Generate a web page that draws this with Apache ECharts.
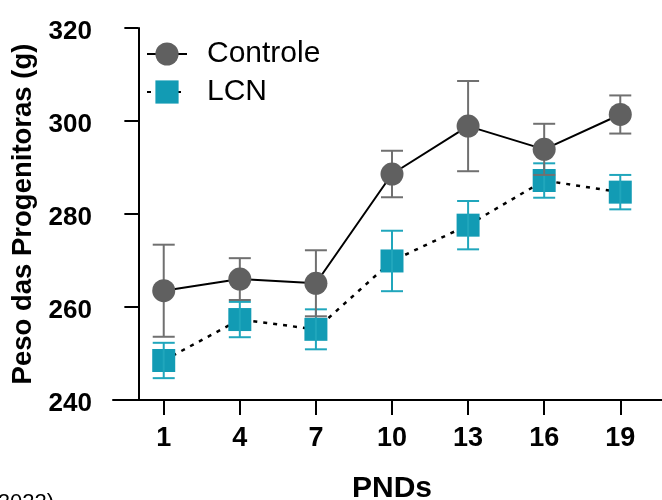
<!DOCTYPE html>
<html>
<head>
<meta charset="utf-8">
<script src="https://cdn.jsdelivr.net/npm/echarts@6/dist/echarts.min.js"></script>
<style>
  html, body { margin: 0; padding: 0; background: #fff; }
  #chart { width: 662px; height: 500px; }
</style>
</head>
<body>
<div id="chart"></div>
<script>
// dias pós-natais
var pnds = [1, 4, 7, 10, 13, 16, 19];
// Controle: média e erro
var controleMedia = [263.5, 266.0, 265.1, 288.6, 298.9, 293.9, 301.4];
var controleErro = [9.9, 4.5, 7.1, 5.0, 9.7, 5.5, 4.1];
// LCN: média e erro
var lcnMedia = [248.5, 257.3, 255.2, 269.9, 277.6, 287.2, 284.7];
var lcnErro = [3.8, 3.8, 4.3, 6.5, 5.2, 3.7, 3.7];
var yTicks = [240, 260, 280, 300, 320];

var fonte = 'Liberation Sans';
var cinza = '#606060';
var cinzaErro = '#707070';
var azul = '#129bb4';
var azulErro = '#20a6bc';

function pares(media) {
  return pnds.map(function (x, i) { return [x, media[i]]; });
}
function barras(media, erro) {
  return pnds.map(function (x, i) { return [x, media[i] - erro[i], media[i] + erro[i]]; });
}

// barras de erro com tampas
function errorRender(cor) {
  return function (params, api) {
    var x = api.value(0);
    var lo = api.coord([x, api.value(1)]);
    var hi = api.coord([x, api.value(2)]);
    var w = 11;
    var st = { stroke: cor, lineWidth: 2 };
    return {
      type: 'group',
      children: [
        { type: 'line', shape: { x1: lo[0], y1: lo[1], x2: hi[0], y2: hi[1] }, style: st },
        { type: 'line', shape: { x1: hi[0] - w, y1: hi[1], x2: hi[0] + w, y2: hi[1] }, style: st },
        { type: 'line', shape: { x1: lo[0] - w, y1: lo[1], x2: lo[0] + w, y2: lo[1] }, style: st }
      ]
    };
  };
}

var chart = echarts.init(document.getElementById('chart'));

var option = {
  animation: false,
  backgroundColor: '#fff',
  grid: { left: 113, right: -9, top: 28, bottom: 100, outerBoundsMode: 'none', containLabel: false },
  legend: {
    left: 141,
    top: 34,
    orient: 'vertical',
    itemWidth: 40,
    itemHeight: 29,
    itemGap: 8,
    textStyle: { fontFamily: fonte, fontSize: 30, color: '#000', padding: [0, 0, 0, 15] },
    data: ['Controle', 'LCN']
  },
  xAxis: {
    type: 'value',
    min: -1,
    max: 21,
    name: 'PNDs',
    nameLocation: 'middle',
    nameGap: 74,
    nameTextStyle: { fontFamily: fonte, fontSize: 30, fontWeight: 'bold', color: '#000' },
    axisLine: { lineStyle: { color: '#000', width: 2 } },
    axisTick: { show: true, length: 15, lineStyle: { color: '#000', width: 2 }, customValues: pnds },
    axisLabel: { customValues: pnds, margin: 25, fontFamily: fonte, fontSize: 27, fontWeight: 'bold', color: '#000' },
    splitLine: { show: false }
  },
  yAxis: {
    type: 'value',
    min: 240,
    max: 320,
    interval: 20,
    name: 'Peso das Progenitoras (g)',
    nameLocation: 'middle',
    nameGap: 74,
    nameTextStyle: { fontFamily: fonte, fontSize: 27.5, fontWeight: 'bold', color: '#000' },
    axisLine: { show: true, lineStyle: { color: '#000', width: 2 } },
    axisTick: { show: true, length: 14, lineStyle: { color: '#000', width: 2 } },
    axisLabel: {
      margin: 21, fontFamily: fonte, fontSize: 26, fontWeight: 'bold', color: '#000',
      formatter: function (v) { return yTicks.indexOf(v) >= 0 ? '{t|' + v + '}' : ''; },
      rich: { t: { fontFamily: fonte, fontSize: 26, fontWeight: 'bold', color: '#000', padding: [7, 0, 0, 0] } }
    },
    splitLine: { show: false }
  },
  graphic: [{
    type: 'text',
    style: { text: '(2022)', x: 54, y: 492, align: 'right', verticalAlign: 'top', font: '22px "Liberation Sans"', fill: '#000' }
  }],
  series: [
    {
      name: 'LCN',
      type: 'line',
      z: 2,
      data: pares(lcnMedia),
      symbol: 'rect',
      symbolSize: 23,
      itemStyle: { color: azul },
      lineStyle: { color: '#000', width: 2.5, type: [4, 6] }
    },
    {
      type: 'custom',
      z: 3,
      data: barras(lcnMedia, lcnErro),
      renderItem: errorRender(azulErro),
      encode: { x: 0, y: [1, 2] }
    },
    {
      type: 'custom',
      z: 4,
      data: barras(controleMedia, controleErro),
      renderItem: errorRender(cinzaErro),
      encode: { x: 0, y: [1, 2] }
    },
    {
      name: 'Controle',
      type: 'line',
      z: 5,
      data: pares(controleMedia),
      symbol: 'circle',
      symbolSize: 23,
      itemStyle: { color: cinza },
      lineStyle: { color: '#000', width: 2 }
    }
  ]
};

chart.setOption(option);
</script>
</body>
</html>
